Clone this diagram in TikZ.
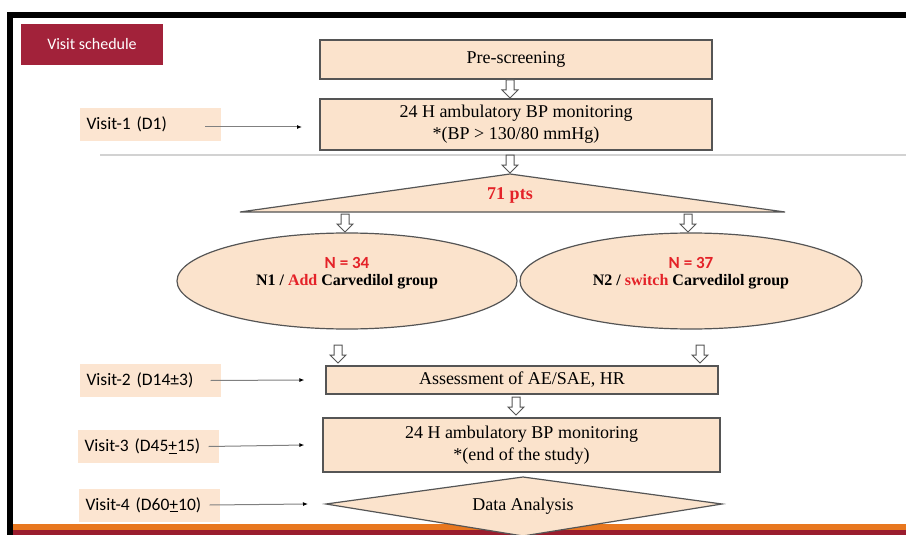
\documentclass[tikz,border=0pt]{standalone}
\usepackage{fontspec}
\setmainfont{Liberation Serif}
\newfontfamily\lblfont{Carlito}
\usetikzlibrary{shapes.geometric,arrows.meta}
\definecolor{peach}{HTML}{FBE3CC}
\definecolor{lpeach}{HTML}{FCE5D1}
\definecolor{wine}{HTML}{A2223A}
\definecolor{bandor}{HTML}{E8771F}
\definecolor{bandred}{HTML}{9A1D2E}
\definecolor{txtred}{HTML}{E42228}
\definecolor{edge}{HTML}{555555}
\tikzset{
  mainbox/.style={draw=edge, line width=1.2pt, fill=peach, align=center, font=\fontsize{18}{22}\selectfont, inner sep=0pt},
  visitlbl/.style={fill=lpeach, minimum width=141pt, minimum height=33pt, text width=127pt, align=left, font=\lblfont\fontsize{17.5}{20}\selectfont, inner sep=0pt},
  harrow/.pic={\draw[draw=edge, fill=white, line width=1pt, line join=miter]
     (-4,-9) -- (4,-9) -- (4,1) -- (8,1) -- (0,9) -- (-8,1) -- (-4,1) -- cycle;},
  visitarrow/.style={draw=gray, line width=1pt, -{Latex[length=5pt,width=4pt,black]}}
}
\begin{document}
\begin{tikzpicture}[x=1pt,y=-1pt]
\useasboundingbox (0,0) rectangle (906,535);
\fill[white] (0,0) rectangle (906,535);
% frame
\fill[black] (7,12) rectangle (906,18);
\fill[black] (7,12) rectangle (13,535);
% bottom band
\fill[bandor] (13,524) rectangle (906,530);
\fill[bandred] (13,530) rectangle (906,535);
% separator
\draw[gray!35, line width=2pt] (100,155) -- (906,155);
% title
\node[fill=wine, text=white, minimum width=142pt, minimum height=41pt, inner sep=0pt, font=\lblfont\fontsize{16}{18}\selectfont] (title) at (92,44.5) {Visit schedule};
% main boxes
\node[mainbox, minimum width=392pt, minimum height=39pt] (pre) at (516,59.5) {Pre-screening};
\node[mainbox, minimum width=392pt, minimum height=51pt] (abpm1) at (516,124.5) {24 H ambulatory BP monitoring\\*(BP {\textgreater} 130/80 mmHg)};
\pic (h1) at (510,89) {harrow};
\pic (h2) at (510,164) {harrow};
% triangle
\coordinate (tA) at (510,174);
\coordinate (tR) at (785,212);
\coordinate (tL) at (240,212);
\draw[draw=edge, line width=1.2pt, fill=peach] (tA) -- (tR) -- (tL) -- cycle;
\node[text=txtred, font=\fontsize{18}{20}\selectfont\bfseries] (pts) at (510,195) {71 pts};
\pic (h3) at (345,223) {harrow};
\pic (h4) at (688,223) {harrow};
% ellipses
\node[ellipse, draw=edge, line width=1.2pt, fill=peach, minimum width=340pt, minimum height=96pt, inner sep=0pt] (e1) at (347,281) {};
\node[ellipse, draw=edge, line width=1.2pt, fill=peach, minimum width=342pt, minimum height=96pt, inner sep=0pt] (e2) at (691,281) {};
\node[text=txtred, font=\lblfont\fontsize{17}{18}\selectfont\bfseries] (n1) at (347,263) {N = 34};
\node[font=\fontsize{16}{18}\selectfont\bfseries] (g1) at (347,282) {N1 / {\color{txtred}Add} Carvedilol group};
\node[text=txtred, font=\lblfont\fontsize{17}{18}\selectfont\bfseries] (n2) at (691,263) {N = 37};
\node[font=\fontsize{16}{18}\selectfont\bfseries] (g2) at (691,282) {N2 / {\color{txtred}switch} Carvedilol group};
\pic (h5) at (338,354) {harrow};
\pic (h6) at (700,354) {harrow};
% lower boxes
\node[mainbox, minimum width=392pt, minimum height=28pt] (ae) at (522,380) {Assessment of AE/SAE, HR};
\pic (h7) at (516,406) {harrow};
\node[mainbox, minimum width=397pt, minimum height=54pt] (abpm2) at (521.5,445) {24 H ambulatory BP monitoring\\*(end of the study)};
% diamond
\coordinate (dL) at (326,504);
\coordinate (dT) at (523,477);
\coordinate (dR) at (722,504);
\coordinate (dB) at (523,536);
\draw[draw=edge, line width=1.2pt, fill=peach] (dL) -- (dT) -- (dR) -- (dB) -- cycle;
\node[font=\fontsize{18}{20}\selectfont] (da) at (523,506) {Data Analysis};
% visit labels
\node[visitlbl] (v1) at (150,124.5) {Visit-1 (D1)};
\node[visitlbl] (v2) at (150,380.5) {Visit-2 (D14{\textpm}3)};
\node[visitlbl] (v3) at (148,446.5) {Visit-3 (D45\underline{+}15)};
\node[visitlbl] (v4) at (149,505) {Visit-4 (D60\underline{+}10)};
\coordinate (a1s) at (205,127);
\coordinate (a1e) at (302,127);
\draw[visitarrow] (a1s) -- (a1e);
\draw[visitarrow] ([xshift=-10pt]v2.east) -- ([xshift=-21pt]ae.west);
\draw[visitarrow] ([xshift=-10pt]v3.east) -- ([xshift=-18pt]abpm2.west);
\draw[visitarrow] ([xshift=-10pt]v4.east) -- ([xshift=-18pt]dL);
\end{tikzpicture}
\end{document}
